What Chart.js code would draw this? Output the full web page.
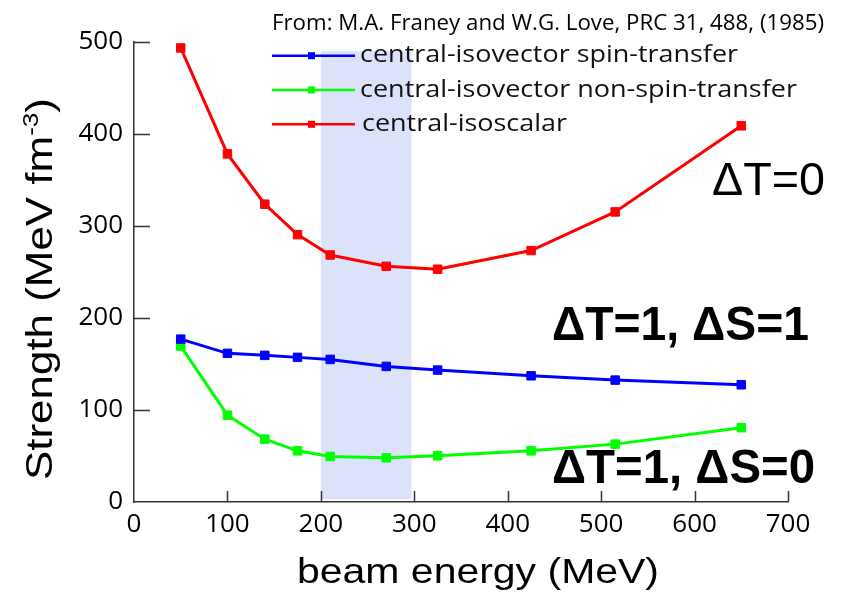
<!DOCTYPE html>
<html>
<head>
<meta charset="utf-8">
<script src="https://cdn.jsdelivr.net/npm/chart.js@4"></script>
<style>
  body { margin: 0; background: #fff; }
  canvas { display: block; }
</style>
</head>
<body>
<canvas id="myChart" width="845" height="595"></canvas>
<script>
'use strict';

// beam energies (MeV)
let energies = [50, 100, 140, 175, 210, 270, 325, 425, 515, 650];

// strengths (MeV fm^-3)
let spinTransfer = [177, 161.6, 159.4, 157.2, 155, 147.4, 143.4, 137.2, 132.5, 127.4];
let nonSpinTransfer = [169.5, 94.4, 68.3, 55.6, 49.5, 48, 50.2, 55.6, 62.9, 80.7];
let isoscalar = [493.5, 378.4, 323.7, 290.6, 268.5, 256.2, 253, 273.3, 315.3, 408.9];

let seriesNames = ['central-isovector spin-transfer', 'central-isovector non-spin-transfer', 'central-isoscalar'];
let seriesColors = ['#0000ff', '#00ff00', '#ff0000'];

let xTicks = [0, 100, 200, 300, 400, 500, 600, 700];
let yTicks = [0, 100, 200, 300, 400, 500];

// shaded energy window
let bandEnergy = [200, 297];
let bandStrength = [3, 490];

function toPoints(ys) {
  return energies.map((e, i) => ({ x: e, y: ys[i] }));
}

function makeSet(label, ys, color) {
  return {
    label: label,
    data: toPoints(ys),
    borderColor: color,
    backgroundColor: color,
    borderWidth: 3,
    pointStyle: 'rect',
    pointRadius: 6,
    pointBorderWidth: 1,
    pointBackgroundColor: color,
    pointBorderColor: color,
    tension: 0
  };
}

// draw text squeezed/stretched to a given width
function fitText(ctx, text, x, y, w, font) {
  ctx.font = font;
  let m = ctx.measureText(text).width;
  ctx.save();
  ctx.translate(x, y);
  ctx.scale(w / m, 1);
  ctx.fillText(text, 0, 0);
  ctx.restore();
}

let decor = {
  id: 'decor',
  beforeDatasetsDraw(chart) {
    let ctx = chart.ctx;
    let xs = chart.scales.x;
    let ys = chart.scales.y;
    let x0 = xs.getPixelForValue(bandEnergy[0]);
    let x1 = xs.getPixelForValue(bandEnergy[1]);
    let y0 = ys.getPixelForValue(bandStrength[1]);
    let y1 = ys.getPixelForValue(bandStrength[0]);
    ctx.save();
    ctx.fillStyle = '#dbe2fa';
    ctx.fillRect(x0, y0, x1 - x0, y1 - y0);
    ctx.restore();
  },
  afterDraw(chart) {
    let ctx = chart.ctx;
    let xs = chart.scales.x;
    let ys = chart.scales.y;
    let area = chart.chartArea;

    // inward tick marks
    ctx.save();
    ctx.strokeStyle = '#333';
    ctx.lineWidth = 1.5;
    ctx.beginPath();
    for (let i = 1; i < yTicks.length; i++) {
      let py = Math.round(ys.getPixelForValue(yTicks[i])) + 0.5;
      ctx.moveTo(area.left, py);
      ctx.lineTo(area.left + 16, py);
    }
    for (let i = 1; i < xTicks.length; i++) {
      let px = Math.round(xs.getPixelForValue(xTicks[i])) + 0.5;
      ctx.moveTo(px, area.bottom);
      ctx.lineTo(px, area.bottom - 11);
    }
    ctx.stroke();
    ctx.restore();

    ctx.save();
    ctx.fillStyle = '#000';
    ctx.textBaseline = 'alphabetic';
    ctx.textAlign = 'left';

    // source note
    fitText(ctx, 'From: M.A. Franey and W.G. Love, PRC 31, 488, (1985)', 272, 30, 552, '21px "Open Sans"');

    // legend
    let legY = [55.7, 90, 124.3];
    let legText = [[360, 62.3, 378], [360, 97.3, 437], [362, 130.7, 205]];
    for (let i = 0; i < 3; i++) {
      ctx.strokeStyle = seriesColors[i];
      ctx.lineWidth = 2.5;
      ctx.beginPath();
      ctx.moveTo(272, legY[i]);
      ctx.lineTo(355, legY[i]);
      ctx.stroke();
      ctx.fillStyle = seriesColors[i];
      ctx.fillRect(308, legY[i] - 3.5, 7, 7);
      ctx.fillStyle = '#111';
      fitText(ctx, seriesNames[i], legText[i][0], legText[i][1], legText[i][2], '24px "Open Sans"');
    }

    // annotations
    ctx.fillStyle = '#000';
    fitText(ctx, 'ΔT=0', 712, 195, 113, '46px "Liberation Sans"');
    fitText(ctx, 'ΔT=1, ΔS=1', 552, 340, 257, 'bold 48px "Liberation Sans"');
    fitText(ctx, 'ΔT=1, ΔS=0', 552, 483, 263, 'bold 48px "Liberation Sans"');

    // x title
    fitText(ctx, 'beam energy (MeV)', 297, 583, 362, '35px "Liberation Sans"');

    // y title with superscript
    ctx.translate(52, 289);
    ctx.rotate(-Math.PI / 2);
    let mainFont = '37px "Liberation Sans"';
    let supFont = '22px "Liberation Sans"';
    ctx.font = mainFont;
    let wMain = ctx.measureText('Strength (MeV fm').width;
    let wClose = ctx.measureText(')').width;
    ctx.font = supFont;
    let wSup = ctx.measureText('-3').width;
    let total = wMain + wSup + wClose;
    let k = 382 / total;
    ctx.scale(k, 1);
    let sx = -total / 2;
    ctx.font = mainFont;
    ctx.fillText('Strength (MeV fm', sx, 0);
    ctx.font = supFont;
    ctx.fillText('-3', sx + wMain, -14);
    ctx.font = mainFont;
    ctx.fillText(')', sx + wMain + wSup, 0);
    ctx.restore();
  }
};

let ctx = document.getElementById('myChart');

let config = {
  type: 'line',
  data: {
    datasets: [
      makeSet(seriesNames[0], spinTransfer, seriesColors[0]),
      makeSet(seriesNames[1], nonSpinTransfer, seriesColors[1]),
      makeSet(seriesNames[2], isoscalar, seriesColors[2])
    ]
  },
  options: {
    responsive: false,
    animation: false,
    layout: { padding: { top: 42, right: 57, left: 0, bottom: 0 } },
    plugins: {
      legend: { display: false },
      tooltip: { enabled: false }
    },
    scales: {
      x: {
        type: 'linear',
        min: 0,
        max: 700,
        afterFit(scale) { scale.height = 93; },
        afterBuildTicks(scale) { scale.ticks = xTicks.map(v => ({ value: v })); },
        grid: { display: false, drawTicks: false },
        border: { display: true, color: '#333', width: 1.5 },
        ticks: { color: '#000', padding: 7, font: { family: 'Open Sans', size: 26 } }
      },
      y: {
        min: 0,
        max: 500,
        afterFit(scale) { scale.width = 134; },
        afterBuildTicks(scale) { scale.ticks = yTicks.map(v => ({ value: v })); },
        grid: { display: false, drawTicks: false },
        border: { display: true, color: '#333', width: 1.5 },
        ticks: { color: '#000', padding: 11, font: { family: 'Open Sans', size: 26 } }
      }
    }
  },
  plugins: [decor]
};

new Chart(ctx, config);
</script>
</body>
</html>
